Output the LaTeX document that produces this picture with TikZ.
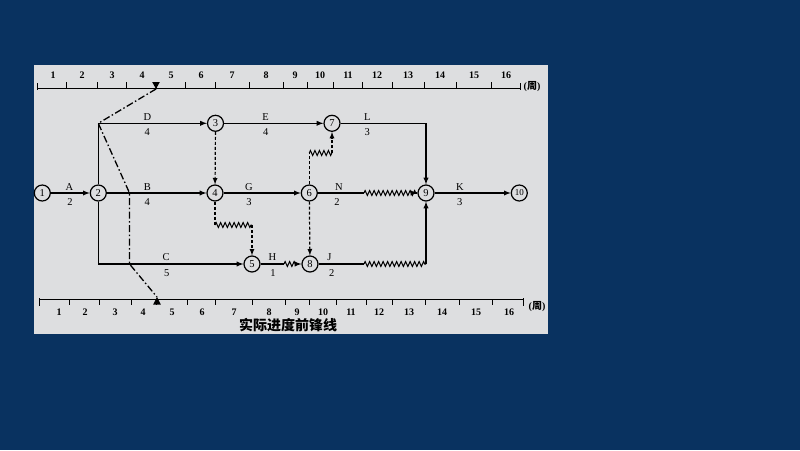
\documentclass[tikz,border=0pt]{standalone}
\usepackage{fontspec}
\setmainfont{Liberation Serif}
\newfontfamily\cjk{Noto Sans CJK SC}
\usepackage{tikz}
\usetikzlibrary{
  arrows,
  decorations.pathmorphing
}
\definecolor{bgblue}{RGB}{9,50,96}
\definecolor{panel}{RGB}{221,222,224}
\tikzset{
  event/.style=
  {
    circle,
    draw=black,
    line width=1.2pt,
    fill=panel,
    minimum size=16pt,
    inner sep=0pt,
    font=\fontsize{10.5}{10.5}\selectfont
  },
  work/.style=
  {
    line width=1.3pt,
    draw=black,
    -latex
  },
  dummy/.style=
  {
    line width=1.2pt,
    densely dashed,
    draw=black,
    -latex
  },
  wave/.style=
  {
    line width=1pt,
    decorate,
    draw=black,
    decoration=
    {zigzag,
      amplitude=2.5pt,
      segment length=4.5pt
    }
  },
  front/.style=
  {
    line width=1.3pt,
    draw=black,
    dash pattern=on 7pt off 2.5pt on 1.5pt off 2.5pt
  },
  lbl/.style=
  {
    inner sep=0pt,
    font=\fontsize{10.5}{10.5}\selectfont
  },
  tick/.style=
  {
    inner sep=0pt,
    font=\bfseries\fontsize{10}{10}\selectfont
  }
 }

\begin{document}
\begin{tikzpicture}[x=1pt, y=-1pt]
          % background and sheet
          \fill[bgblue] (0,0) rectangle (800,450);
          \fill[panel] (34,65) rectangle (548,334);
          % time scale, top
          \draw[line width=0.9pt] (37,88) -- (520,88);
          \draw[line width=0.9pt] (37,83) -- (37,90);
          \draw[line width=0.9pt] (520,83) -- (520,90);
          \foreach \t in {66.7,97.3,126.7,156,185.7,215.7,249,283,307.3,333.3,362.3,392.3,424.3,456,491.7}
            \draw[line width=0.9pt] (\t,88) -- (\t,82);
          \foreach \l/\n in {53/1,82/2,112/3,142/4,171/5,201/6,232/7,266/8,295/9,320/10,348/11,377/12,408/13,440/14,474/15,506/16}
            \node[tick] (top\n) at (\l,75) {\n};
          \node[tick] (unitT) at (532,87) {({\cjk 周})};
          % time scale, bottom
          \draw[line width=0.9pt] (39,299) -- (523,299);
          \draw[line width=0.9pt] (39,298) -- (39,306);
          \draw[line width=0.9pt] (523,298) -- (523,306);
          \foreach \t in {69.3,99.3,131.7,156.7,187.7,215,252.7,285,309.3,336.7,366,392.7,425.7,459,492.3}
            \draw[line width=0.9pt] (\t,299) -- (\t,305);
          \foreach \l/\n in {59/1,85/2,115/3,143/4,172/5,202/6,234/7,269/8,297/9,323/10,351/11,379/12,409/13,442/14,476/15,509/16}
            \node[tick] (bot\n) at (\l,312) {\n};
          \node[tick] (unitB) at (537,307) {({\cjk 周})};
          % events
          \node[event] (n1) at (42.3,193) {1};
          \node[event] (n2) at (98.3,193) {2};
          \node[event] (n3) at (215.5,123.3) {3};
          \node[event] (n4) at (215,193) {4};
          \node[event] (n5) at (252,264) {5};
          \node[event] (n6) at (309.3,193) {6};
          \node[event] (n7) at (332,123.3) {7};
          \node[event] (n8) at (310,264) {8};
          \node[event] (n9) at (426,193) {9};
          \node[event, font=\fontsize{9}{9}\selectfont] (n10) at (519.3,193) {10};
          \coordinate (c2u) at (98.3,123.3);
          \coordinate (c2d) at (98.3,264);
          \coordinate (cL) at (426,123.3);
          \coordinate (cJ) at (426,264);
          \coordinate (w45a) at (215,225);
          \coordinate (w45b) at (252,225);
          \coordinate (w67a) at (309.3,153);
          \coordinate (w67b) at (332,153);
          \coordinate (wHa) at (284,264);
          \coordinate (wHb) at (297,264);
          \coordinate (wNa) at (364,193);
          \coordinate (wNb) at (417,193);
          \coordinate (wJa) at (364,264);
          % works
          \draw[work] (n1) -- (n2);
          \draw[work] (n2) -- (c2u) -- (n3);
          \draw[work] (n2) -- (n4);
          \draw[work] (n2) -- (c2d) -- (n5);
          \draw[work] (n3) -- (n7);
          \draw[work] (n4) -- (n6);
          \draw[work] (n7) -- (cL) -- (n9);
          \draw[work] (n9) -- (n10);
          \draw[work,-] (n5) -- (wHa);
          \draw[wave] (wHa) -- (wHb);
          \draw[work] (wHb) -- (n8);
          \draw[work,-] (n6) -- (wNa);
          \draw[wave] (wNa) -- (wNb);
          \draw[work] (wNb) -- (n9);
          \draw[work,-] (n8) -- (wJa);
          \draw[wave] (wJa) -- (cJ);
          \draw[work] (cJ) -- (n9);
          % dummies
          \draw[dummy] (n3) -- (n4);
          \draw[dummy,-] (n4) -- (w45a);
          \draw[wave] (w45a) -- (w45b);
          \draw[dummy] (w45b) -- (n5);
          \draw[dummy,-] (n6) -- (w67a);
          \draw[wave] (w67a) -- (w67b);
          \draw[dummy] (w67b) -- (n7);
          \draw[dummy] (n6) -- (n8);
          % labels
          \node[lbl] (labD) at (147.3,116.7) {D};
          \node[lbl] (durD) at (147.3,131.7) {4};
          \node[lbl] (labE) at (265.7,116.7) {E};
          \node[lbl] (durE) at (265.7,131.7) {4};
          \node[lbl] (labL) at (367.3,116.7) {L};
          \node[lbl] (durL) at (367.3,131.7) {3};
          \node[lbl] (labA) at (69.3,186.7) {A};
          \node[lbl] (durA) at (70,201.7) {2};
          \node[lbl] (labB) at (147.3,186.7) {B};
          \node[lbl] (durB) at (147.3,201.7) {4};
          \node[lbl] (labG) at (249,186.7) {G};
          \node[lbl] (durG) at (249,201.7) {3};
          \node[lbl] (labN) at (339,186.7) {N};
          \node[lbl] (durN) at (337,201.7) {2};
          \node[lbl] (labK) at (460,186.7) {K};
          \node[lbl] (durK) at (459.7,201.7) {3};
          \node[lbl] (labC) at (166,256.7) {C};
          \node[lbl] (durC) at (166.7,272.7) {5};
          \node[lbl] (labH) at (272.3,256.7) {H};
          \node[lbl] (durH) at (273,272.7) {1};
          \node[lbl] (labJ) at (329.3,256.7) {J};
          \node[lbl] (durJ) at (331.7,272.7) {2};
          % progress front line
          \coordinate (tipT) at (156,89);
          \coordinate (tipB) at (157,297);
          \coordinate (fB) at (129.5,193);
          \coordinate (fC) at (129.5,264);
          \fill (152.2,82) -- (159.8,82) -- (tipT) -- cycle;
          \fill (153.2,304.5) -- (160.8,304.5) -- (tipB) -- cycle;
          \draw[front] (tipT) -- (c2u) -- (fB) -- (fC) -- (tipB);
          \node[font=\cjk\bfseries\fontsize{14}{14}\selectfont, inner sep=0pt] (title) at (288,325) {实际进度前锋线};
        \end{tikzpicture}
\end{document}
